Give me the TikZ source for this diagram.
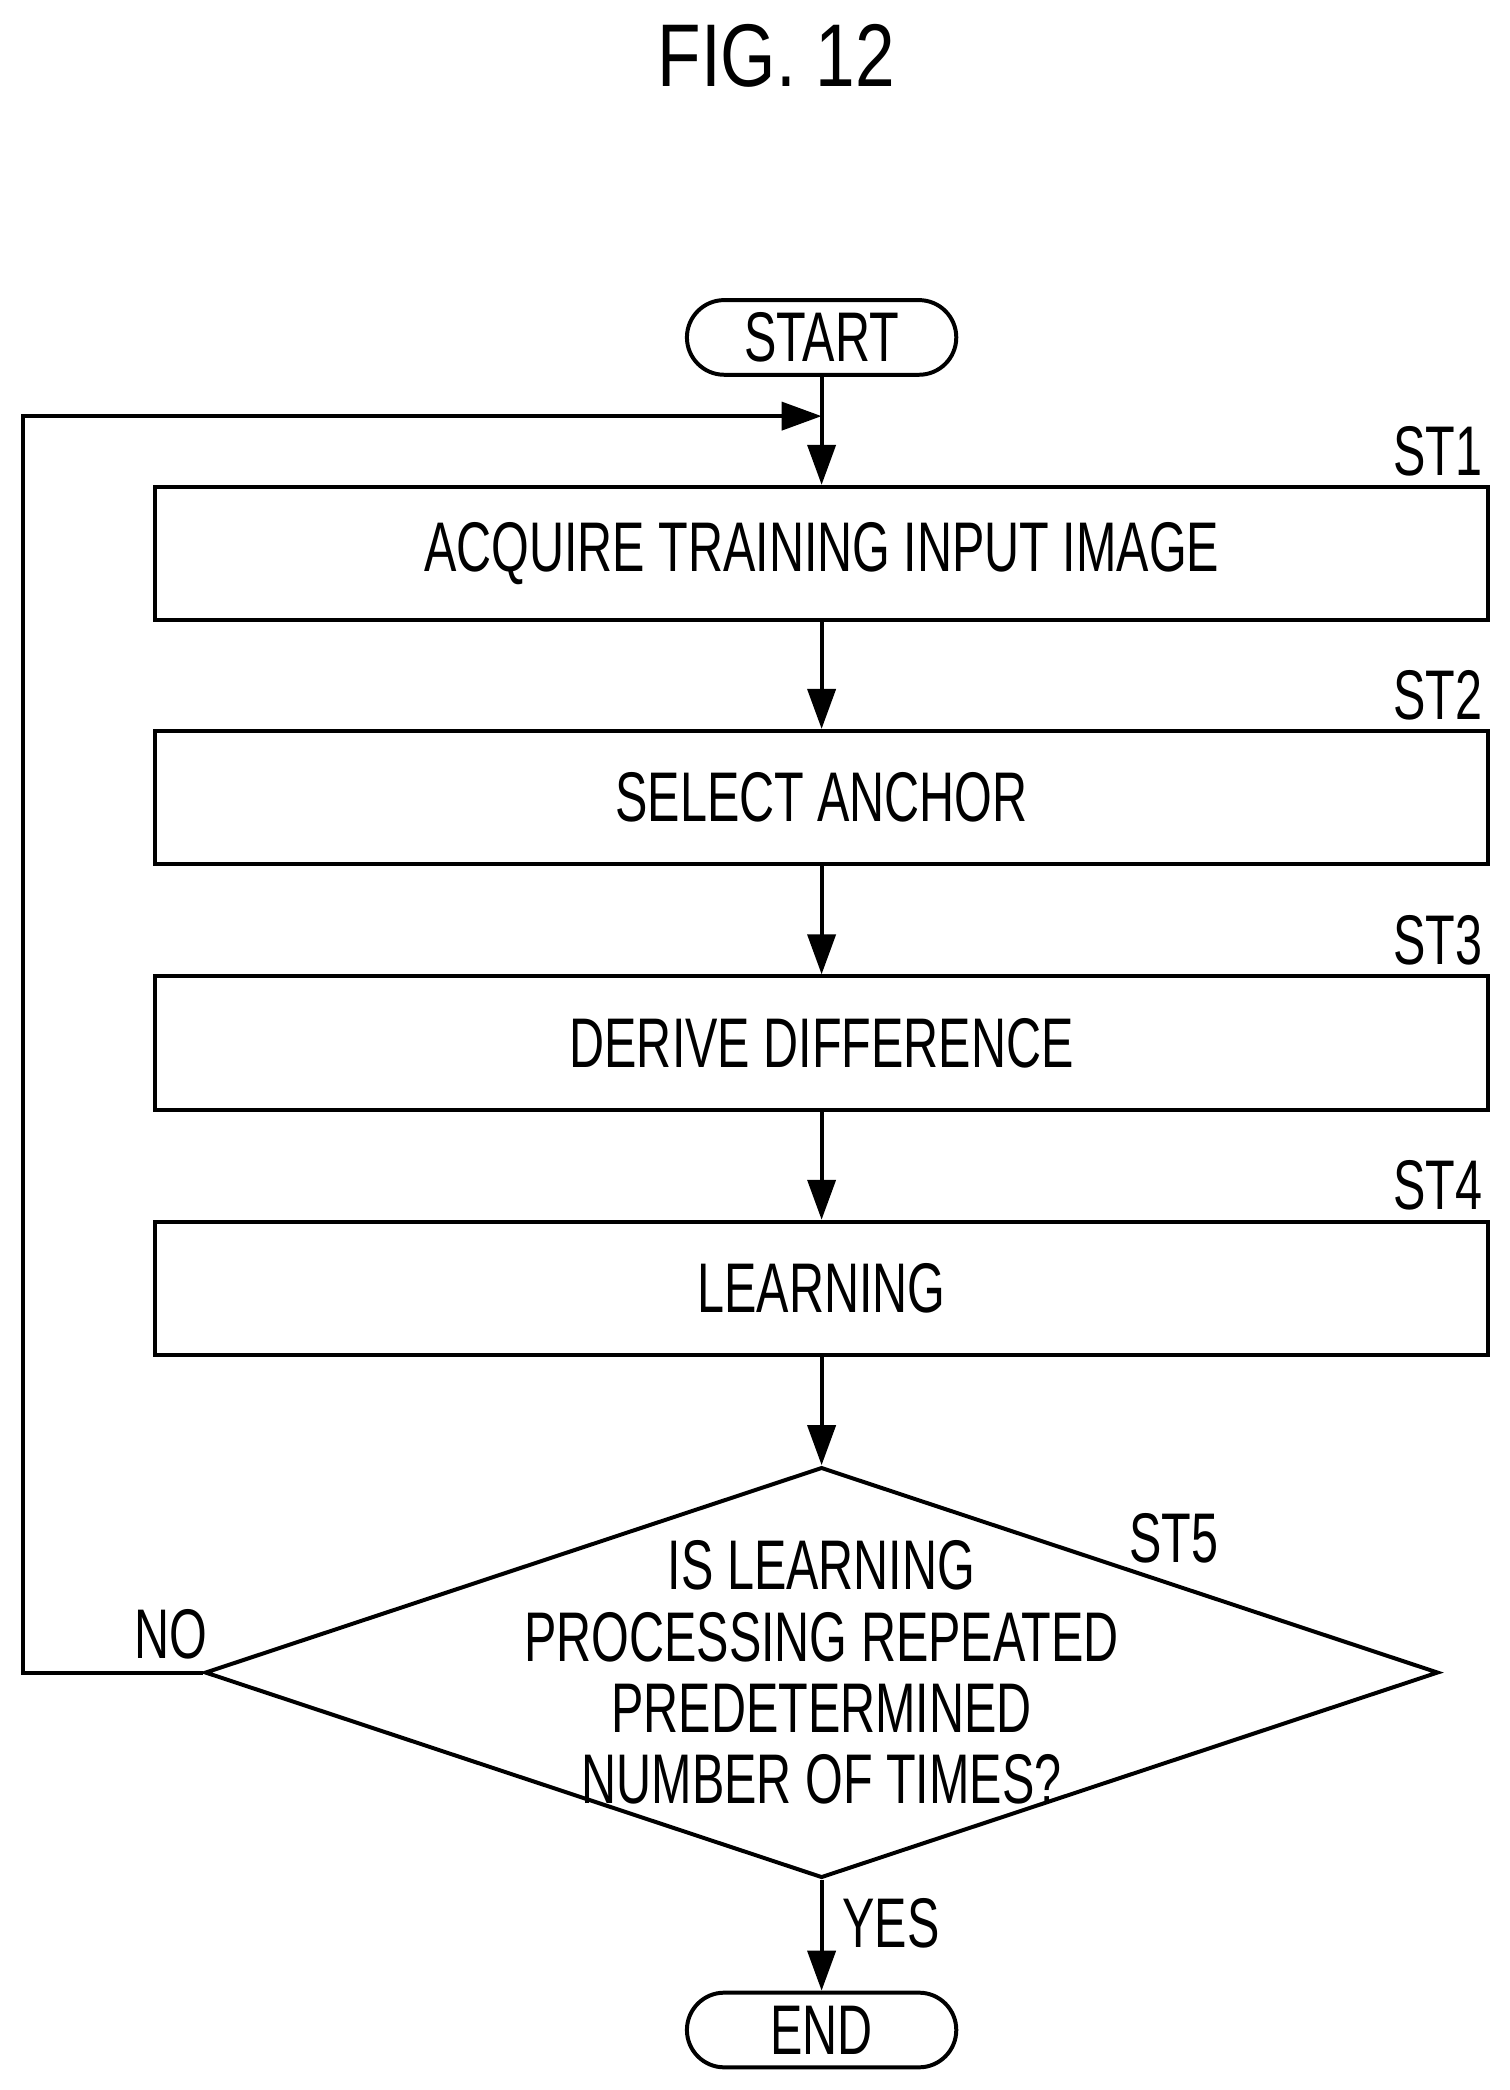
\documentclass[tikz,border=0pt]{standalone}
\usepackage{fontspec}
\setmainfont{Liberation Sans}
\usetikzlibrary{arrows.meta,shapes.geometric,positioning}
\newcommand{\nar}[1]{\scalebox{0.69}[1]{#1}}
\begin{document}
\begin{tikzpicture}[x=0.02cm,y=-0.02cm,
    line width=1.7pt,
    txt/.style={font=\fontsize{30}{34}\selectfont, inner sep=0pt},
    stepbox/.style={draw, rectangle, minimum width=20cm, minimum height=2cm, txt},
    term/.style={draw, rounded corners=0.56cm, minimum width=4.04cm, minimum height=1.12cm, txt},
    lbl/.style={txt},
    arr/.style={-{Triangle[length=0.6cm,width=0.42cm]}}]
		\useasboundingbox (0,0) rectangle (1132,1567);
		
		\node [txt, font=\fontsize{38}{40}\selectfont] (title) at (582,42) {\scalebox{0.8}[1]{FIG. 12}};
		
		% terminals
		\node [term] (start) at (616,253) {\nar{START}};
		\node [term] (end) at (616,1522) {\nar{END}};
		
		% steps
		\node [stepbox] (st1) at (616,415) {\nar{ACQUIRE TRAINING INPUT IMAGE}};
		\node [stepbox] (st2) at (616,598) {\nar{SELECT ANCHOR}};
		\node [stepbox] (st3) at (616,782) {\nar{DERIVE DIFFERENCE}};
		\node [stepbox] (st4) at (616,966) {\nar{LEARNING}};
		\node [draw, diamond, minimum width=18.5cm, minimum height=6.16cm, inner sep=0pt] (st5) at (616,1254) {};
		\node [txt, align=center, font=\fontsize{30}{30.5}\selectfont] (q) at (616,1254) {\nar{IS LEARNING}\\\nar{PROCESSING REPEATED}\\\nar{PREDETERMINED}\\\nar{NUMBER OF TIMES?}};
		
		% step labels
		\node [lbl, anchor=east] (l1) at (1113,338) {\nar{ST1}};
		\node [lbl, anchor=east] (l2) at (1113,521) {\nar{ST2}};
		\node [lbl, anchor=east] (l3) at (1113,705) {\nar{ST3}};
		\node [lbl, anchor=east] (l4) at (1113,889) {\nar{ST4}};
		\node [lbl, anchor=east] (l5) at (915,1153) {\nar{ST5}};
		\node [lbl] (no) at (128,1225) {\nar{NO}};
		\node [lbl] (yes) at (668,1442) {\nar{YES}};
		
		% connectors
		\coordinate (join) at (616,312);
		\coordinate (lb) at (17,1254);
		\coordinate (lt) at (17,312);
		\draw [arr] (start) -- (st1);
		\draw [arr] (st1) -- (st2);
		\draw [arr] (st2) -- (st3);
		\draw [arr] (st3) -- (st4);
		\draw [arr] (st4) -- (st5.north);
		\draw [arr] (st5.south) -- (end);
		\draw [arr] (st5.west) -- (lb) -- (lt) -- (join);
		
\end{tikzpicture}
\end{document}
